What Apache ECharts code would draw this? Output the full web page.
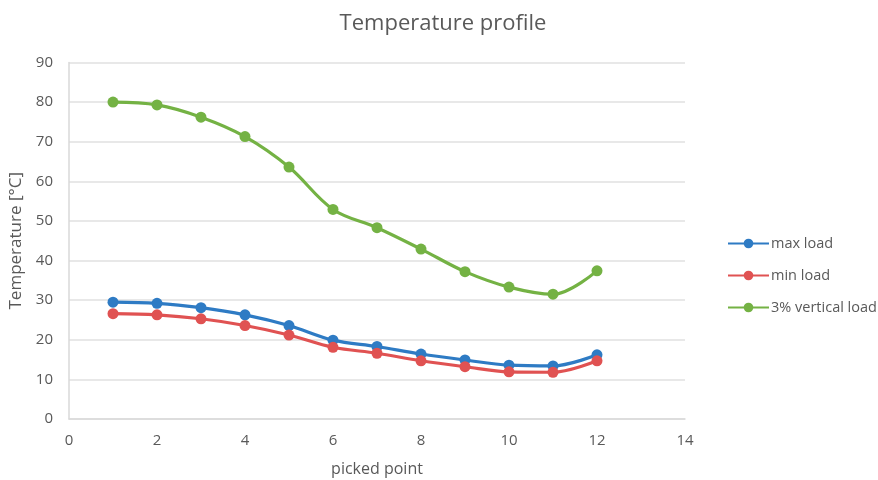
<!DOCTYPE html>
<html><head><meta charset="utf-8">
<script src="https://cdn.jsdelivr.net/npm/echarts@6/dist/echarts.min.js"></script>
<style>html,body{margin:0;padding:0;background:#fff}#c{width:878px;height:480px}</style>
</head><body><div id="c"></div>
<script>
const points = [1,2,3,4,5,6,7,8,9,10,11,12];
const maxLoad = [29.5,29.2,28.1,26.3,23.6,19.9,18.3,16.4,14.9,13.6,13.4,16.2];
const minLoad = [26.6,26.3,25.3,23.6,21.2,18.1,16.6,14.7,13.2,11.9,11.8,14.7];
const vertLoad = [80.0,79.3,76.2,71.3,63.6,52.9,48.3,42.9,37.2,33.3,31.5,37.4];
const seriesNames = ['max load','min load','3% vertical load'];
const colors = ['#2E7BC4','#E05252','#74B244'];
const font = 'Open Sans';
const txt = '#595959';
function mk(name, vals, color){
  return {name, type:'line', smooth:0.35, data: points.map((p,i)=>[p, vals[i]]),
    symbol:'circle', symbolSize:11, lineStyle:{width:3.2,color}, itemStyle:{color}, z:3};
}
const chart = echarts.init(document.getElementById('c'));
chart.setOption({
  animation:false,
  textStyle:{fontFamily:font},
  title:{text:'Temperature profile', left:438, top:8, textAlign:'center',
    textStyle:{fontFamily:font, fontSize:22, fontWeight:'normal', color:txt}},
  grid:{left:69, right:193, top:62.5, bottom:61, outerBoundsMode:'none', containLabel:false},
  legend:{orient:'vertical', left:722, top:231, itemGap:17, itemWidth:41, itemHeight:12,
    textStyle:{fontFamily:font, fontSize:14.5, color:txt, padding:[0,0,0,-3]},
    data:seriesNames},
  xAxis:{type:'value', min:0, max:14, interval:2,
    name:'picked point', nameLocation:'middle', nameGap:42,
    nameTextStyle:{fontFamily:font, fontSize:16, color:txt},
    axisLine:{show:true, lineStyle:{color:'#d9d9d9', width:1.5}},
    axisTick:{show:false},
    axisLabel:{fontFamily:font, fontSize:15, color:txt, margin:14},
    splitLine:{show:false}},
  yAxis:{type:'value', min:0, max:90, interval:10,
    name:'Temperature [°C]', nameLocation:'middle', nameGap:42,
    nameTextStyle:{fontFamily:font, fontSize:17, color:txt},
    axisLine:{show:true, lineStyle:{color:'#d9d9d9', width:1.5}},
    axisTick:{show:false},
    axisLabel:{fontFamily:font, fontSize:15, color:txt, margin:16},
    splitLine:{lineStyle:{color:'#e0e0e0', width:1.5}}},
  series:[mk(seriesNames[0], maxLoad, colors[0]), mk(seriesNames[1], minLoad, colors[1]), mk(seriesNames[2], vertLoad, colors[2])]
});
</script></body></html>
